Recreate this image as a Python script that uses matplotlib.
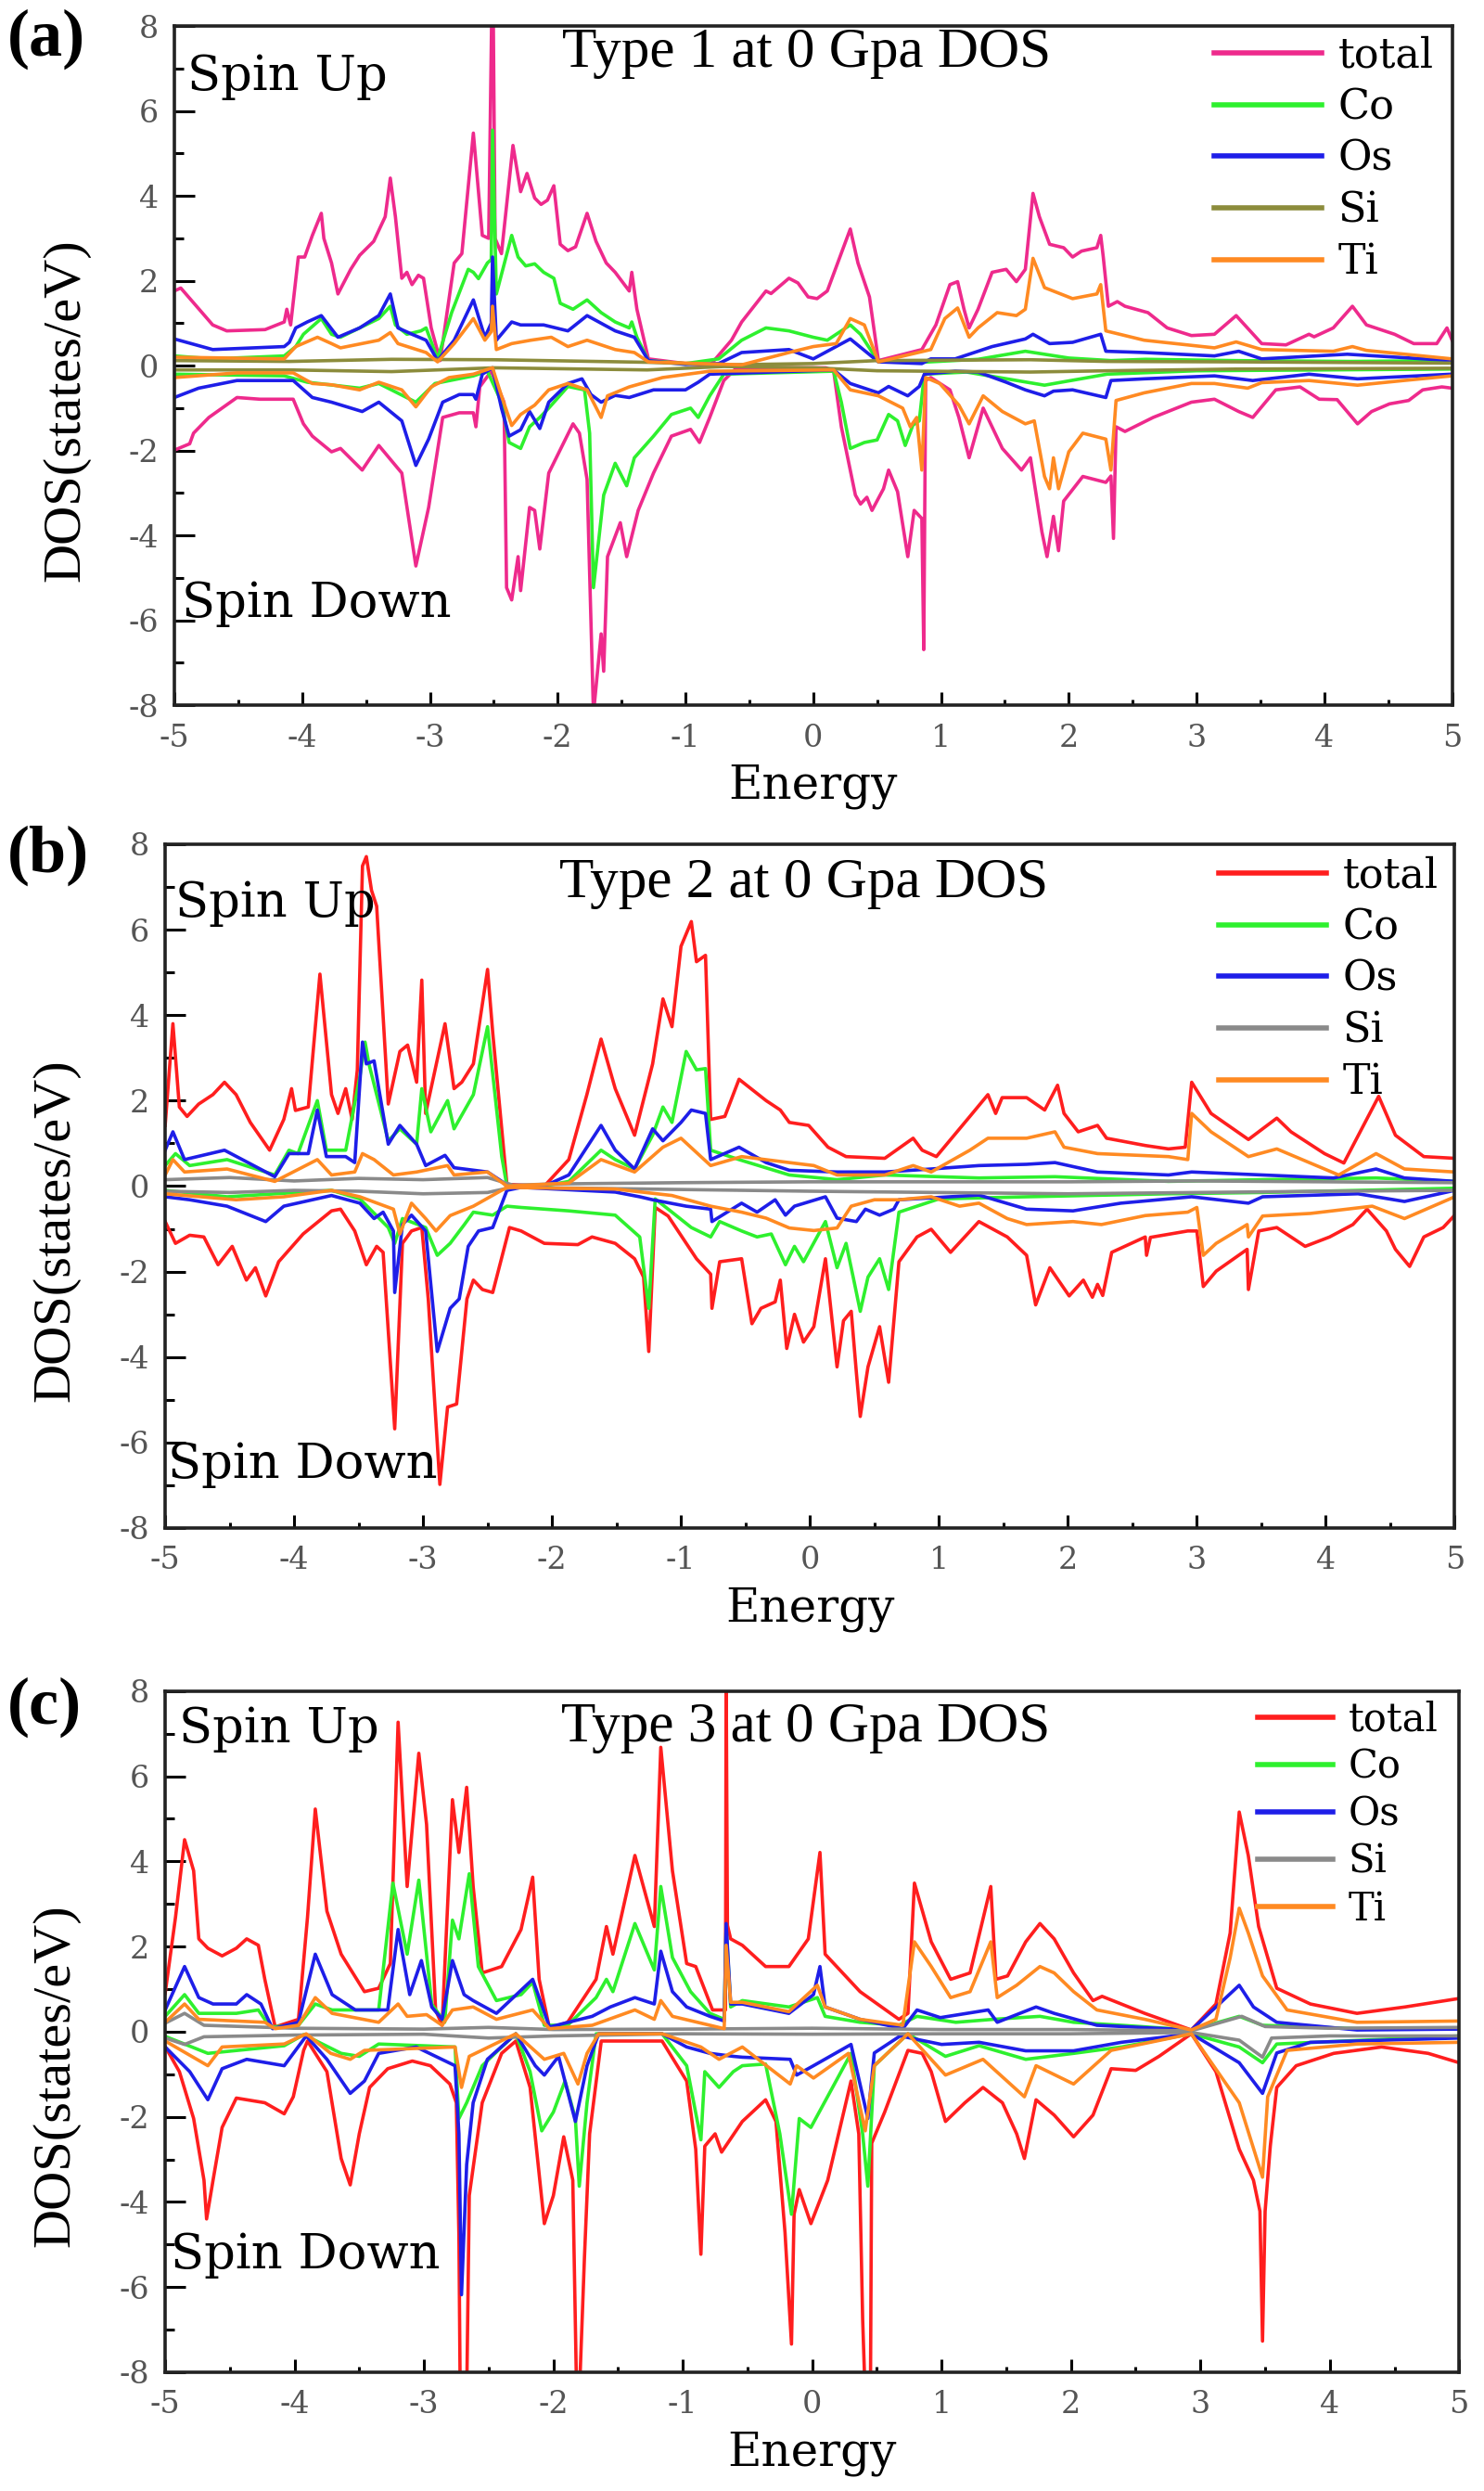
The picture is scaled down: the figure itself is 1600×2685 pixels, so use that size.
import matplotlib.pyplot as plt
from matplotlib.ticker import MultipleLocator

plt.rcParams['font.family'] = 'Liberation Serif'
plt.rcParams['axes.unicode_minus'] = False

# ---------------- panel (a) : Type 1 ----------------
a_total_up_e = [-5.00, -4.95, -4.70, -4.59, -4.29, -4.14, -4.12, -4.09, -4.03, -3.98, -3.92, -3.85, -3.83, -3.77, -3.72, -3.62, -3.55, -3.44, -3.35, -3.31, -3.27, -3.22, -3.18, -3.14, -3.09, -3.05, -2.99, -2.92, -2.81, -2.75, -2.66, -2.59, -2.54, -2.515, -2.505, -2.49, -2.44, -2.35, -2.29, -2.24, -2.18, -2.13, -2.08, -2.03, -1.98, -1.92, -1.86, -1.77, -1.70, -1.62, -1.55, -1.44, -1.42, -1.38, -1.29, -1.00, -0.81, -0.64, -0.56, -0.37, -0.33, -0.19, -0.12, -0.04, 0.03, 0.11, 0.29, 0.35, 0.44, 0.51, 0.85, 0.96, 1.07, 1.13, 1.18, 1.22, 1.29, 1.40, 1.51, 1.59, 1.66, 1.72, 1.77, 1.85, 1.96, 2.03, 2.10, 2.22, 2.25, 2.27, 2.31, 2.38, 2.44, 2.62, 2.77, 2.96, 3.14, 3.31, 3.51, 3.70, 3.88, 3.92, 4.07, 4.22, 4.33, 4.55, 4.70, 4.88, 4.96, 5.00]
a_total_up = [1.76, 1.83, 0.96, 0.82, 0.85, 1.03, 1.33, 0.96, 2.56, 2.56, 3.07, 3.59, 3.00, 2.42, 1.69, 2.27, 2.60, 2.93, 3.51, 4.42, 3.51, 2.06, 2.20, 1.91, 2.13, 2.06, 0.89, 0.12, 2.42, 2.64, 5.48, 3.07, 3.00, 8.60, 8.60, 3.00, 2.64, 5.19, 4.10, 4.53, 3.95, 3.80, 3.90, 4.24, 2.86, 2.71, 2.80, 3.59, 2.93, 2.42, 2.20, 1.76, 2.20, 1.33, 0.16, 0.05, 0.00, 0.60, 1.03, 1.76, 1.70, 2.06, 1.95, 1.62, 1.58, 1.76, 3.22, 2.42, 1.62, 0.12, 0.38, 0.96, 1.91, 1.98, 1.33, 0.89, 1.33, 2.20, 2.27, 1.98, 2.27, 4.06, 3.51, 2.86, 2.78, 2.56, 2.70, 2.78, 3.07, 2.56, 1.40, 1.51, 1.40, 1.25, 0.89, 0.71, 0.74, 1.18, 0.52, 0.49, 0.74, 0.68, 0.89, 1.40, 0.96, 0.74, 0.52, 0.52, 0.89, 0.60]
a_total_dn_e = [-5.00, -4.88, -4.85, -4.73, -4.51, -4.33, -4.07, -3.99, -3.92, -3.77, -3.70, -3.53, -3.40, -3.22, -3.11, -3.01, -2.90, -2.77, -2.66, -2.64, -2.61, -2.52, -2.42, -2.40, -2.36, -2.31, -2.29, -2.22, -2.18, -2.14, -2.07, -1.88, -1.83, -1.77, -1.72, -1.66, -1.64, -1.61, -1.51, -1.46, -1.37, -1.25, -1.11, -0.96, -0.89, -0.81, -0.70, -0.60, 0.10, 0.16, 0.22, 0.33, 0.37, 0.42, 0.46, 0.55, 0.59, 0.66, 0.74, 0.79, 0.85, 0.865, 0.88, 0.92, 1.07, 1.14, 1.22, 1.33, 1.48, 1.63, 1.70, 1.79, 1.83, 1.88, 1.92, 1.96, 2.11, 2.29, 2.33, 2.35, 2.37, 2.44, 2.66, 2.96, 3.14, 3.33, 3.44, 3.62, 3.81, 3.96, 4.10, 4.26, 4.37, 4.51, 4.66, 4.77, 4.92, 5.00]
a_total_dn = [-1.99, -1.84, -1.59, -1.22, -0.75, -0.79, -0.79, -1.37, -1.66, -2.03, -1.95, -2.46, -1.88, -2.53, -4.72, -3.34, -1.22, -1.11, -1.11, -1.44, -0.50, -0.13, -0.86, -5.23, -5.52, -4.50, -5.30, -3.34, -3.41, -4.32, -2.53, -1.37, -1.59, -2.68, -8.20, -6.32, -7.20, -4.50, -3.70, -4.50, -3.41, -2.53, -1.66, -1.50, -1.81, -1.22, -0.35, -0.05, -0.05, -0.13, -1.44, -3.05, -3.26, -3.10, -3.41, -2.90, -2.46, -2.97, -4.50, -3.41, -3.60, -6.69, -0.35, -0.28, -0.57, -1.22, -2.17, -1.00, -1.95, -2.46, -2.17, -3.92, -4.50, -3.55, -4.36, -3.19, -2.61, -2.75, -2.60, -4.07, -1.44, -1.55, -1.22, -0.86, -0.79, -1.08, -1.22, -0.57, -0.50, -0.79, -0.80, -1.37, -1.08, -0.90, -0.82, -0.57, -0.50, -0.53]

a_co_up_e = [-5.00, -4.70, -4.14, -4.05, -3.99, -3.85, -3.77, -3.70, -3.40, -3.31, -3.27, -3.18, -3.07, -3.03, -2.94, -2.83, -2.70, -2.66, -2.62, -2.55, -2.52, -2.51, -2.48, -2.36, -2.31, -2.25, -2.18, -2.11, -2.03, -1.98, -1.88, -1.77, -1.66, -1.55, -1.44, -1.42, -1.38, -1.29, -1.00, -0.74, -0.56, -0.37, -0.19, 0.00, 0.11, 0.29, 0.37, 0.51, 0.85, 1.29, 1.66, 2.00, 2.33, 2.60, 3.30, 4.20, 5.00]
a_co_up = [0.23, 0.16, 0.23, 0.45, 0.74, 1.11, 0.74, 0.67, 1.11, 1.40, 0.96, 0.74, 0.82, 0.89, 0.16, 1.25, 2.27, 2.20, 2.05, 2.42, 2.50, 5.55, 1.69, 3.07, 2.56, 2.35, 2.40, 2.20, 2.06, 1.47, 1.33, 1.55, 1.25, 1.03, 0.89, 1.03, 0.67, 0.12, 0.05, 0.16, 0.60, 0.89, 0.82, 0.67, 0.60, 0.96, 0.74, 0.09, 0.08, 0.15, 0.34, 0.18, 0.12, 0.15, 0.12, 0.10, 0.12]
a_co_dn_e = [-5.00, -4.14, -3.96, -3.55, -3.40, -3.11, -2.96, -2.66, -2.55, -2.44, -2.38, -2.29, -2.22, -2.14, -2.07, -1.92, -1.79, -1.75, -1.72, -1.64, -1.55, -1.46, -1.40, -1.25, -1.11, -0.96, -0.90, -0.81, -0.70, 0.16, 0.22, 0.29, 0.40, 0.50, 0.59, 0.66, 0.72, 0.78, 0.83, 0.87, 1.20, 1.81, 2.30, 3.00, 4.00, 5.00]
a_co_dn = [-0.20, -0.24, -0.39, -0.53, -0.42, -0.86, -0.42, -0.24, -0.13, -0.86, -1.81, -1.95, -1.44, -1.22, -1.00, -0.49, -0.57, -1.59, -5.23, -3.05, -2.30, -2.83, -2.17, -1.66, -1.15, -1.00, -1.22, -0.71, -0.20, -0.13, -0.86, -1.95, -1.81, -1.75, -1.15, -1.30, -1.88, -1.40, -1.30, -0.20, -0.15, -0.46, -0.20, -0.12, -0.10, -0.08]

a_os_up_e = [-5.00, -4.70, -4.14, -4.10, -4.05, -3.96, -3.85, -3.72, -3.55, -3.40, -3.31, -3.25, -3.14, -3.03, -2.94, -2.81, -2.66, -2.57, -2.52, -2.51, -2.48, -2.36, -2.29, -2.11, -1.92, -1.77, -1.55, -1.40, -1.29, -1.00, -0.74, -0.56, -0.19, 0.00, 0.29, 0.51, 0.85, 0.92, 1.11, 1.40, 1.66, 1.72, 1.85, 2.03, 2.25, 2.29, 2.59, 3.14, 3.33, 3.51, 4.18, 5.00]
a_os_up = [0.63, 0.38, 0.45, 0.55, 0.89, 1.03, 1.18, 0.67, 0.89, 1.18, 1.69, 0.89, 0.74, 0.60, 0.12, 0.60, 1.55, 0.67, 1.00, 2.56, 0.60, 1.03, 0.96, 0.96, 0.82, 1.18, 0.82, 0.67, 0.12, 0.03, 0.05, 0.31, 0.38, 0.16, 0.63, 0.09, 0.05, 0.16, 0.16, 0.45, 0.63, 0.74, 0.52, 0.55, 0.74, 0.34, 0.31, 0.23, 0.34, 0.16, 0.27, 0.12]
a_os_dn_e = [-5.00, -4.81, -4.51, -4.07, -3.92, -3.77, -3.53, -3.40, -3.22, -3.11, -3.01, -2.90, -2.77, -2.66, -2.64, -2.59, -2.51, -2.44, -2.38, -2.29, -2.22, -2.14, -2.07, -1.92, -1.81, -1.74, -1.66, -1.55, -1.44, -1.25, -1.00, -0.90, -0.81, 0.16, 0.29, 0.51, 0.59, 0.74, 0.83, 0.87, 1.11, 1.29, 1.51, 1.66, 1.81, 1.88, 2.03, 2.29, 2.33, 2.59, 3.14, 3.44, 3.88, 4.26, 5.00]
a_os_dn = [-0.75, -0.53, -0.35, -0.35, -0.75, -0.86, -1.08, -0.86, -1.30, -2.35, -1.73, -0.86, -0.68, -0.68, -0.79, -0.20, -0.05, -1.00, -1.66, -1.51, -1.08, -1.48, -0.86, -0.42, -0.31, -0.68, -0.86, -0.70, -0.75, -0.57, -0.57, -0.39, -0.20, -0.10, -0.42, -0.64, -0.49, -0.71, -0.49, -0.20, -0.13, -0.15, -0.39, -0.57, -0.71, -0.60, -0.57, -0.75, -0.35, -0.31, -0.24, -0.35, -0.20, -0.31, -0.20]

a_si_up_e = [-5.00, -4.10, -3.30, -2.50, -1.30, -0.70, 0.00, 0.50, 1.70, 2.30, 3.30, 5.00]
a_si_up = [0.12, 0.10, 0.15, 0.14, 0.08, 0.02, 0.05, 0.12, 0.14, 0.10, 0.09, 0.06]
a_si_dn_e = [-5.00, -4.10, -3.30, -2.50, -1.30, -0.70, 0.00, 0.50, 1.70, 2.30, 3.30, 5.00]
a_si_dn = [-0.10, -0.10, -0.14, -0.05, -0.10, -0.02, -0.05, -0.12, -0.15, -0.12, -0.08, -0.06]

a_ti_up_e = [-5.00, -4.14, -4.05, -3.88, -3.77, -3.70, -3.40, -3.31, -3.25, -3.03, -2.94, -2.81, -2.66, -2.57, -2.52, -2.51, -2.48, -2.36, -2.21, -2.05, -1.92, -1.77, -1.55, -1.40, -1.29, -0.56, -0.19, 0.00, 0.18, 0.29, 0.40, 0.51, 0.92, 1.03, 1.13, 1.22, 1.29, 1.44, 1.59, 1.66, 1.72, 1.81, 2.03, 2.22, 2.25, 2.29, 2.59, 3.14, 3.31, 3.51, 4.07, 4.22, 4.33, 5.00]
a_ti_up = [0.20, 0.16, 0.45, 0.67, 0.52, 0.42, 0.60, 0.78, 0.52, 0.31, 0.09, 0.52, 1.11, 0.60, 0.80, 1.40, 0.38, 0.52, 0.60, 0.67, 0.45, 0.60, 0.38, 0.31, 0.09, 0.02, 0.31, 0.45, 0.52, 1.11, 0.96, 0.09, 0.38, 1.11, 1.36, 0.67, 0.89, 1.25, 1.18, 1.33, 2.53, 1.84, 1.58, 1.69, 1.91, 0.82, 0.60, 0.42, 0.56, 0.38, 0.34, 0.45, 0.36, 0.16]
a_ti_dn_e = [-5.00, -4.51, -4.07, -3.92, -3.77, -3.55, -3.40, -3.22, -3.11, -2.99, -2.85, -2.66, -2.51, -2.44, -2.36, -2.29, -2.18, -2.07, -1.92, -1.77, -1.66, -1.61, -1.44, -1.18, -0.81, 0.16, 0.29, 0.51, 0.70, 0.76, 0.81, 0.85, 0.88, 0.99, 1.14, 1.22, 1.33, 1.48, 1.66, 1.73, 1.81, 1.85, 1.88, 1.92, 2.00, 2.11, 2.29, 2.33, 2.37, 2.59, 2.96, 3.14, 3.40, 3.51, 3.88, 4.26, 4.62, 5.00]
a_ti_dn = [-0.28, -0.17, -0.17, -0.42, -0.45, -0.57, -0.39, -0.57, -0.97, -0.50, -0.28, -0.20, -0.05, -0.71, -1.41, -1.15, -0.93, -0.57, -0.42, -0.57, -1.22, -0.71, -0.50, -0.28, -0.13, -0.10, -0.57, -0.71, -1.00, -1.44, -1.22, -2.46, -0.28, -0.42, -0.93, -1.37, -0.71, -1.08, -1.37, -1.30, -2.61, -2.90, -2.17, -2.90, -2.03, -1.59, -1.73, -2.46, -0.82, -0.64, -0.42, -0.42, -0.53, -0.40, -0.35, -0.46, -0.35, -0.24]

# ---------------- panel (b) : Type 2 ----------------
b_total_up_e = [-5.00, -4.94, -4.89, -4.83, -4.74, -4.63, -4.54, -4.45, -4.34, -4.19, -4.08, -4.02, -3.99, -3.89, -3.80, -3.71, -3.66, -3.60, -3.55, -3.51, -3.47, -3.44, -3.40, -3.36, -3.27, -3.18, -3.12, -3.05, -3.01, -2.98, -2.83, -2.76, -2.70, -2.61, -2.50, -2.46, -2.35, -2.06, -1.87, -1.73, -1.62, -1.51, -1.36, -1.22, -1.14, -1.07, -1.00, -0.92, -0.88, -0.81, -0.77, -0.66, -0.55, -0.34, -0.23, -0.16, -0.01, 0.14, 0.28, 0.58, 0.80, 0.87, 0.98, 1.24, 1.38, 1.44, 1.49, 1.68, 1.82, 1.92, 1.97, 2.08, 2.23, 2.30, 2.60, 2.78, 2.91, 2.96, 3.11, 3.40, 3.62, 3.73, 3.99, 4.14, 4.41, 4.54, 4.76, 5.00]
b_total_up = [1.42, 3.80, 1.85, 1.63, 1.92, 2.14, 2.43, 2.14, 1.49, 0.84, 1.56, 2.28, 1.77, 1.85, 4.96, 2.14, 1.70, 2.28, 1.56, 2.72, 7.49, 7.71, 6.92, 6.55, 1.92, 3.15, 3.30, 2.43, 4.82, 1.70, 3.80, 2.28, 2.43, 2.86, 5.07, 3.59, 0.04, 0.00, 0.62, 2.14, 3.44, 2.28, 1.19, 2.86, 4.38, 3.73, 5.61, 6.19, 5.25, 5.40, 1.56, 1.63, 2.50, 2.00, 1.78, 1.49, 1.42, 0.91, 0.69, 0.65, 1.12, 0.84, 0.69, 1.63, 2.14, 1.70, 2.07, 2.07, 1.78, 2.36, 1.70, 1.27, 1.42, 1.12, 0.95, 0.87, 0.91, 2.43, 1.70, 1.09, 1.59, 1.27, 0.76, 0.54, 2.10, 1.19, 0.69, 0.65]
b_total_dn_e = [-5.00, -4.92, -4.81, -4.70, -4.59, -4.48, -4.37, -4.30, -4.22, -4.12, -3.93, -3.71, -3.64, -3.53, -3.44, -3.36, -3.31, -3.22, -3.16, -3.09, -3.01, -2.96, -2.87, -2.81, -2.74, -2.66, -2.61, -2.54, -2.46, -2.33, -2.24, -2.06, -1.80, -1.69, -1.51, -1.36, -1.29, -1.25, -1.20, -1.10, -0.88, -0.77, -0.76, -0.70, -0.53, -0.45, -0.38, -0.27, -0.23, -0.18, -0.12, -0.05, 0.03, 0.12, 0.21, 0.26, 0.32, 0.36, 0.39, 0.45, 0.54, 0.61, 0.69, 0.83, 0.94, 1.09, 1.31, 1.53, 1.68, 1.75, 1.86, 2.01, 2.12, 2.19, 2.23, 2.27, 2.34, 2.60, 2.61, 2.64, 2.93, 3.00, 3.05, 3.15, 3.39, 3.40, 3.48, 3.62, 3.84, 4.03, 4.21, 4.32, 4.47, 4.54, 4.65, 4.76, 4.91, 5.00]
b_total_dn = [-0.83, -1.34, -1.15, -1.19, -1.84, -1.41, -2.20, -1.91, -2.57, -1.77, -1.12, -0.58, -0.54, -1.05, -1.84, -1.41, -1.55, -5.68, -1.34, -1.05, -0.97, -2.64, -6.98, -5.17, -5.10, -2.64, -2.20, -2.42, -2.49, -0.97, -1.05, -1.34, -1.37, -1.19, -1.34, -1.70, -2.13, -3.87, -0.50, -0.70, -1.70, -2.06, -2.86, -1.77, -1.70, -3.22, -2.86, -2.71, -2.20, -3.80, -3.00, -3.65, -3.29, -1.70, -4.23, -3.15, -2.93, -4.37, -5.39, -4.23, -3.29, -4.59, -1.77, -1.19, -1.01, -1.55, -0.83, -1.19, -1.62, -2.78, -1.91, -2.57, -2.20, -2.60, -2.30, -2.56, -1.55, -1.19, -1.62, -1.20, -1.05, -1.05, -2.35, -1.99, -1.48, -2.42, -1.05, -0.97, -1.41, -1.19, -0.90, -0.54, -1.05, -1.48, -1.88, -1.19, -0.97, -0.68]

b_co_up_e = [-5.00, -4.92, -4.81, -4.52, -4.15, -4.04, -3.97, -3.82, -3.75, -3.60, -3.49, -3.45, -3.42, -3.27, -3.18, -3.05, -3.01, -2.94, -2.81, -2.76, -2.61, -2.50, -2.39, -2.35, -2.06, -1.87, -1.62, -1.51, -1.36, -1.22, -1.14, -1.07, -0.96, -0.88, -0.81, -0.77, -0.55, -0.16, 0.21, 0.58, 1.31, 1.90, 2.78, 3.51, 4.39, 5.00]
b_co_up = [0.48, 0.76, 0.48, 0.62, 0.26, 0.84, 0.76, 2.00, 0.84, 0.84, 2.57, 3.37, 2.86, 1.06, 1.34, 0.98, 2.28, 1.27, 2.00, 1.34, 2.14, 3.73, 0.69, 0.00, 0.00, 0.11, 0.84, 0.62, 0.40, 1.19, 1.85, 1.49, 3.15, 2.72, 2.75, 0.84, 0.62, 0.26, 0.15, 0.26, 0.19, 0.22, 0.11, 0.15, 0.19, 0.11]
b_co_dn_e = [-5.00, -4.52, -3.71, -3.49, -3.27, -3.22, -3.16, -2.98, -2.89, -2.79, -2.68, -2.61, -2.46, -2.35, -2.24, -1.87, -1.51, -1.32, -1.25, -1.20, -1.07, -0.92, -0.77, -0.70, -0.53, -0.41, -0.30, -0.19, -0.12, -0.05, 0.12, 0.21, 0.28, 0.34, 0.39, 0.45, 0.54, 0.61, 0.69, 1.00, 1.68, 2.78, 3.51, 5.00]
b_co_dn = [-0.10, -0.25, -0.10, -0.30, -0.97, -1.34, -0.76, -0.97, -1.62, -1.34, -0.90, -0.61, -0.68, -0.47, -0.50, -0.58, -0.68, -1.19, -2.86, -0.30, -0.61, -0.97, -1.19, -0.83, -1.05, -1.19, -1.12, -1.84, -1.41, -1.77, -0.83, -1.91, -1.34, -2.20, -2.93, -2.13, -1.70, -2.42, -0.61, -0.30, -0.25, -0.18, -0.15, -0.05]

b_os_up_e = [-5.00, -4.94, -4.85, -4.54, -4.15, -4.04, -3.89, -3.82, -3.75, -3.60, -3.53, -3.47, -3.44, -3.38, -3.27, -3.18, -3.05, -2.98, -2.83, -2.76, -2.50, -2.39, -2.35, -2.06, -1.87, -1.62, -1.51, -1.36, -1.22, -1.14, -1.00, -0.92, -0.81, -0.77, -0.55, -0.34, -0.16, 0.21, 0.58, 0.94, 1.31, 1.68, 1.90, 2.23, 2.78, 2.96, 3.51, 4.06, 4.39, 4.61, 5.00]
b_os_up = [0.84, 1.27, 0.62, 0.84, 0.22, 0.76, 0.76, 1.78, 0.69, 0.69, 0.55, 3.37, 2.86, 2.93, 0.98, 1.42, 0.98, 0.48, 0.72, 0.43, 0.33, 0.11, 0.00, 0.00, 0.26, 1.42, 0.84, 0.40, 1.34, 1.06, 1.49, 1.78, 1.70, 0.62, 0.91, 0.55, 0.37, 0.33, 0.33, 0.40, 0.48, 0.51, 0.55, 0.33, 0.26, 0.33, 0.26, 0.19, 0.40, 0.19, 0.11]
b_os_dn_e = [-5.00, -4.81, -4.52, -4.37, -4.22, -4.08, -3.71, -3.49, -3.38, -3.31, -3.23, -3.22, -3.16, -3.09, -2.98, -2.89, -2.79, -2.72, -2.65, -2.57, -2.46, -2.35, -2.24, -1.51, -1.32, -1.22, -0.96, -0.77, -0.76, -0.53, -0.41, -0.27, -0.19, -0.12, 0.12, 0.21, 0.36, 0.43, 0.54, 0.65, 0.69, 1.31, 1.68, 2.04, 2.41, 2.96, 3.40, 3.51, 4.25, 4.61, 5.00]
b_os_dn = [-0.25, -0.32, -0.47, -0.65, -0.83, -0.47, -0.22, -0.40, -0.76, -0.61, -1.05, -2.49, -0.90, -0.68, -1.05, -3.87, -2.86, -2.64, -1.41, -1.05, -0.97, -0.10, -0.03, -0.14, -0.25, -0.32, -0.47, -0.54, -0.83, -0.40, -0.61, -0.32, -0.68, -0.47, -0.25, -0.75, -0.83, -0.54, -0.68, -0.54, -0.32, -0.21, -0.54, -0.58, -0.40, -0.25, -0.40, -0.25, -0.18, -0.36, -0.10]

b_si_up_e = [-5.00, -4.50, -4.00, -3.50, -3.00, -2.50, -2.30, -2.00, -1.00, 0.00, 1.00, 2.00, 3.00, 4.00, 5.00]
b_si_up = [0.15, 0.20, 0.12, 0.18, 0.15, 0.20, 0.02, 0.05, 0.08, 0.10, 0.10, 0.10, 0.12, 0.10, 0.08]
b_si_dn_e = [-5.00, -4.50, -4.00, -3.50, -3.00, -2.50, -2.30, -2.00, -1.00, 0.00, 1.00, 2.00, 3.00, 4.00, 5.00]
b_si_dn = [-0.12, -0.15, -0.10, -0.12, -0.18, -0.15, -0.02, -0.04, -0.08, -0.12, -0.15, -0.18, -0.15, -0.12, -0.10]

b_ti_up_e = [-5.00, -4.94, -4.85, -4.52, -4.15, -3.82, -3.71, -3.53, -3.47, -3.38, -3.23, -3.05, -2.81, -2.76, -2.50, -2.35, -1.87, -1.62, -1.36, -1.14, -1.00, -0.77, -0.53, -0.16, 0.03, 0.21, 0.58, 0.80, 0.94, 1.24, 1.38, 1.68, 1.90, 1.97, 2.23, 2.78, 2.93, 2.96, 3.11, 3.40, 3.62, 4.10, 4.39, 4.61, 5.00]
b_ti_up = [0.26, 0.62, 0.33, 0.40, 0.11, 0.62, 0.26, 0.33, 0.76, 0.62, 0.26, 0.33, 0.48, 0.26, 0.33, 0.00, 0.07, 0.62, 0.33, 0.91, 1.12, 0.48, 0.69, 0.55, 0.48, 0.26, 0.26, 0.48, 0.33, 0.84, 1.12, 1.12, 1.27, 0.91, 0.76, 0.69, 0.62, 1.70, 1.27, 0.69, 0.87, 0.26, 0.76, 0.40, 0.33]
b_ti_dn_e = [-5.00, -4.45, -4.08, -3.71, -3.49, -3.23, -3.18, -3.09, -2.98, -2.90, -2.79, -2.61, -2.35, -1.51, -1.07, -0.77, -0.53, -0.34, -0.16, 0.03, 0.21, 0.32, 0.50, 0.69, 0.94, 1.16, 1.31, 1.53, 1.68, 2.04, 2.26, 2.60, 2.93, 3.00, 3.05, 3.15, 3.39, 3.40, 3.51, 3.88, 4.36, 4.61, 5.00]
b_ti_dn = [-0.18, -0.32, -0.25, -0.10, -0.25, -0.54, -1.12, -0.40, -0.76, -1.05, -0.69, -0.47, -0.03, -0.07, -0.22, -0.47, -0.61, -0.75, -0.98, -1.04, -0.98, -0.47, -0.32, -0.32, -0.25, -0.47, -0.40, -0.76, -0.90, -0.83, -0.90, -0.69, -0.61, -0.50, -1.62, -1.34, -0.90, -1.19, -0.70, -0.64, -0.47, -0.76, -0.25]

# ---------------- panel (c) : Type 3 ----------------
c_total_up_e = [-5.00, -4.92, -4.85, -4.78, -4.74, -4.67, -4.56, -4.45, -4.37, -4.28, -4.23, -4.15, -3.97, -3.90, -3.84, -3.75, -3.64, -3.46, -3.35, -3.26, -3.20, -3.13, -3.04, -2.98, -2.91, -2.86, -2.78, -2.73, -2.67, -2.62, -2.55, -2.40, -2.25, -2.16, -2.11, -2.03, -1.89, -1.67, -1.59, -1.54, -1.37, -1.22, -1.17, -1.08, -0.97, -0.90, -0.77, -0.67, -0.665, -0.655, -0.63, -0.54, -0.36, -0.18, -0.03, 0.06, 0.10, 0.37, 0.67, 0.74, 0.79, 0.92, 1.07, 1.22, 1.38, 1.42, 1.51, 1.65, 1.76, 1.87, 2.02, 2.17, 2.24, 2.57, 2.93, 3.12, 3.23, 3.30, 3.37, 3.45, 3.59, 3.85, 4.21, 4.58, 5.00]
c_total_up = [0.90, 2.69, 4.51, 3.78, 2.18, 1.96, 1.78, 1.96, 2.18, 2.03, 1.23, 0.11, 0.29, 2.69, 5.23, 2.83, 1.82, 0.94, 1.02, 1.60, 7.27, 3.41, 6.54, 4.87, 0.51, 0.15, 5.45, 4.21, 5.74, 3.41, 1.38, 1.53, 2.40, 3.63, 1.23, 0.07, 0.22, 1.23, 2.47, 1.82, 4.14, 2.47, 6.68, 3.78, 1.60, 1.53, 0.51, 0.51, 8.60, 2.50, 2.18, 2.03, 1.53, 1.53, 2.18, 4.21, 1.82, 0.94, 0.29, 0.43, 3.49, 2.11, 1.23, 1.38, 3.41, 1.23, 1.31, 2.11, 2.54, 2.18, 1.38, 0.73, 0.83, 0.43, 0.04, 0.65, 2.32, 5.16, 4.14, 2.47, 1.02, 0.65, 0.43, 0.58, 0.78]
c_total_dn_e = [-5.00, -4.89, -4.78, -4.70, -4.68, -4.63, -4.56, -4.45, -4.23, -4.08, -4.01, -3.93, -3.90, -3.75, -3.64, -3.57, -3.50, -3.42, -3.28, -3.09, -2.95, -2.80, -2.75, -2.73, -2.72, -2.67, -2.65, -2.55, -2.40, -2.29, -2.18, -2.07, -2.00, -1.92, -1.85, -1.82, -1.80, -1.76, -1.72, -1.63, -1.16, -0.97, -0.90, -0.86, -0.83, -0.75, -0.70, -0.54, -0.36, -0.28, -0.21, -0.16, -0.14, -0.10, -0.01, 0.12, 0.30, 0.36, 0.39, 0.41, 0.45, 0.46, 0.56, 0.74, 0.85, 0.92, 1.03, 1.18, 1.32, 1.47, 1.58, 1.64, 1.73, 1.87, 2.02, 2.17, 2.31, 2.50, 2.68, 2.93, 3.12, 3.30, 3.41, 3.46, 3.48, 3.50, 3.54, 3.59, 3.74, 4.03, 4.40, 4.76, 5.00]
c_total_dn = [-0.35, -0.94, -2.04, -3.49, -4.40, -3.49, -2.25, -1.56, -1.67, -1.93, -1.53, -0.44, -0.22, -0.94, -2.98, -3.60, -2.40, -1.31, -0.87, -0.69, -0.80, -1.23, -1.67, -4.80, -8.60, -8.60, -3.85, -1.67, -0.51, -0.22, -1.31, -4.51, -3.85, -2.47, -3.49, -8.60, -8.60, -5.31, -2.40, -0.22, -0.22, -1.16, -2.76, -5.23, -2.69, -2.40, -2.83, -2.11, -1.60, -2.11, -4.72, -7.34, -4.29, -3.71, -4.51, -3.49, -1.16, -2.40, -6.76, -8.60, -8.60, -2.62, -1.89, -0.44, -0.51, -0.94, -2.11, -1.67, -1.31, -1.67, -2.40, -2.98, -1.60, -1.96, -2.47, -1.96, -0.87, -0.91, -0.58, -0.05, -0.94, -2.76, -3.49, -4.22, -7.27, -4.22, -2.69, -1.31, -0.80, -0.51, -0.36, -0.51, -0.73]

c_co_up_e = [-5.00, -4.85, -4.74, -4.45, -4.28, -4.19, -3.97, -3.84, -3.71, -3.35, -3.24, -3.13, -3.04, -2.94, -2.84, -2.78, -2.73, -2.65, -2.58, -2.44, -2.25, -2.16, -2.07, -1.89, -1.67, -1.59, -1.54, -1.37, -1.22, -1.17, -1.08, -0.94, -0.79, -0.68, -0.665, -0.63, -0.54, -0.18, 0.04, 0.10, 0.37, 0.67, 0.81, 1.11, 1.40, 1.76, 2.02, 2.39, 2.93, 3.30, 3.48, 4.21, 5.00]
c_co_up = [0.36, 0.87, 0.43, 0.43, 0.51, 0.11, 0.15, 0.65, 0.51, 0.51, 3.49, 1.82, 3.56, 0.65, 0.22, 2.62, 2.18, 3.71, 1.53, 0.73, 0.87, 1.16, 0.15, 0.15, 0.80, 1.23, 0.94, 2.54, 1.45, 3.41, 1.74, 0.94, 0.43, 0.29, 2.47, 0.58, 0.73, 0.58, 0.80, 0.36, 0.22, 0.15, 0.36, 0.22, 0.29, 0.36, 0.22, 0.15, 0.04, 0.36, 0.15, 0.07, 0.07]
c_co_dn_e = [-5.00, -4.67, -4.08, -3.93, -3.64, -3.50, -3.35, -2.76, -2.73, -2.67, -2.55, -2.40, -2.29, -2.18, -2.09, -2.00, -1.91, -1.83, -1.80, -1.74, -1.67, -1.16, -0.97, -0.86, -0.83, -0.72, -0.61, -0.54, -0.36, -0.25, -0.16, -0.10, -0.01, 0.30, 0.39, 0.43, 0.48, 0.74, 1.03, 1.29, 1.65, 2.02, 2.39, 2.93, 3.30, 3.48, 3.59, 5.00]
c_co_dn = [-0.11, -0.51, -0.33, -0.07, -0.51, -0.58, -0.29, -0.36, -2.04, -1.67, -0.80, -0.36, -0.05, -0.94, -2.33, -1.89, -1.16, -2.04, -3.63, -1.67, -0.05, -0.05, -0.80, -2.54, -0.94, -1.31, -0.94, -0.80, -0.76, -2.40, -4.29, -2.04, -2.25, -0.51, -2.40, -3.63, -0.80, -0.05, -0.58, -0.33, -0.65, -0.51, -0.36, -0.05, -0.36, -0.73, -0.29, -0.10]

c_os_up_e = [-5.00, -4.85, -4.74, -4.63, -4.45, -4.37, -4.26, -4.17, -3.97, -3.84, -3.71, -3.53, -3.28, -3.20, -3.11, -3.02, -2.94, -2.86, -2.78, -2.69, -2.62, -2.44, -2.16, -2.03, -1.70, -1.56, -1.37, -1.22, -1.17, -1.08, -0.97, -0.79, -0.68, -0.665, -0.63, -0.54, -0.18, 0.01, 0.06, 0.10, 0.37, 0.70, 0.81, 0.99, 1.36, 1.43, 1.73, 1.87, 2.20, 2.93, 3.30, 3.41, 3.59, 4.21, 5.00]
c_os_up = [0.51, 1.53, 0.80, 0.65, 0.65, 0.87, 0.65, 0.07, 0.22, 1.82, 0.87, 0.51, 0.51, 2.40, 0.87, 1.67, 0.58, 0.29, 1.67, 0.87, 0.73, 0.43, 1.23, 0.11, 0.36, 0.58, 0.80, 0.65, 1.89, 0.94, 0.58, 0.36, 0.25, 2.54, 0.65, 0.65, 0.43, 0.87, 1.53, 0.58, 0.29, 0.07, 0.51, 0.33, 0.51, 0.22, 0.58, 0.43, 0.15, 0.04, 1.09, 0.58, 0.22, 0.04, 0.06]
c_os_dn_e = [-5.00, -4.81, -4.67, -4.56, -4.37, -4.08, -3.91, -3.75, -3.57, -3.46, -3.35, -3.06, -2.76, -2.73, -2.71, -2.67, -2.62, -2.51, -2.29, -2.14, -2.07, -1.96, -1.83, -1.74, -1.65, -1.16, -0.97, -0.79, -0.61, -0.54, -0.17, -0.12, 0.01, 0.30, 0.43, 0.48, 0.68, 1.00, 1.29, 1.65, 2.02, 2.39, 2.93, 3.30, 3.48, 3.59, 3.85, 5.00]
c_os_dn = [-0.36, -0.94, -1.60, -0.87, -0.65, -0.80, -0.10, -0.65, -1.45, -1.16, -0.51, -0.36, -0.80, -2.40, -6.18, -3.12, -1.67, -0.65, -0.05, -0.80, -1.02, -0.58, -2.11, -0.80, -0.05, -0.05, -0.36, -0.51, -0.58, -0.60, -0.65, -1.02, -0.80, -0.30, -2.04, -0.50, -0.10, -0.30, -0.25, -0.45, -0.45, -0.25, -0.05, -0.73, -1.45, -0.50, -0.25, -0.15]

c_si_up_e = [-5.00, -4.85, -4.70, -4.00, -3.00, -2.50, -2.00, -1.00, 0.00, 1.00, 2.00, 2.93, 3.32, 3.50, 4.00, 5.00]
c_si_up = [0.20, 0.43, 0.15, 0.08, 0.06, 0.10, 0.05, 0.06, 0.08, 0.05, 0.05, 0.02, 0.36, 0.12, 0.08, 0.10]
c_si_dn_e = [-5.00, -4.85, -4.70, -4.00, -3.00, -2.50, -2.00, -1.00, 0.00, 1.00, 2.00, 2.93, 3.30, 3.48, 3.55, 4.00, 5.00]
c_si_dn = [-0.15, -0.30, -0.12, -0.08, -0.06, -0.15, -0.10, -0.05, -0.06, -0.05, -0.05, -0.02, -0.20, -0.60, -0.15, -0.10, -0.10]

c_ti_up_e = [-5.00, -4.85, -4.74, -4.23, -4.15, -3.97, -3.84, -3.71, -3.35, -3.20, -3.13, -2.98, -2.86, -2.78, -2.62, -2.44, -2.16, -2.03, -1.70, -1.37, -1.22, -1.17, -1.08, -0.68, -0.665, -0.63, -0.54, -0.18, 0.04, 0.10, 0.37, 0.70, 0.79, 0.92, 1.07, 1.22, 1.38, 1.43, 1.58, 1.76, 1.87, 2.02, 2.20, 2.57, 2.93, 3.12, 3.23, 3.30, 3.37, 3.48, 3.67, 4.21, 5.00]
c_ti_up = [0.22, 0.65, 0.29, 0.22, 0.07, 0.15, 0.80, 0.43, 0.22, 0.65, 0.36, 0.40, 0.15, 0.51, 0.58, 0.29, 0.51, 0.07, 0.15, 0.51, 0.29, 0.73, 0.36, 0.07, 2.03, 0.69, 0.69, 0.47, 1.09, 0.58, 0.29, 0.15, 2.11, 1.53, 0.80, 0.94, 2.11, 0.80, 1.09, 1.53, 1.38, 0.94, 0.51, 0.29, 0.04, 0.29, 1.74, 2.90, 2.32, 1.31, 0.51, 0.22, 0.25]
c_ti_dn_e = [-5.00, -4.67, -4.56, -4.08, -3.91, -3.72, -3.57, -3.46, -2.76, -2.71, -2.65, -2.29, -2.07, -1.92, -1.81, -1.74, -1.65, -1.16, -0.86, -0.72, -0.54, -0.17, -0.12, 0.01, 0.28, 0.41, 0.48, 0.74, 1.03, 1.32, 1.64, 1.73, 2.02, 2.31, 2.93, 3.30, 3.48, 3.52, 3.67, 4.21, 5.00]
c_ti_dn = [-0.22, -0.80, -0.36, -0.29, -0.05, -0.51, -0.65, -0.44, -0.36, -1.31, -0.58, -0.05, -0.65, -0.51, -1.23, -0.51, -0.05, -0.05, -0.36, -0.65, -0.36, -1.23, -0.80, -1.09, -0.51, -2.33, -0.80, -0.05, -1.02, -0.65, -1.53, -0.80, -1.23, -0.44, -0.05, -1.67, -3.42, -1.53, -0.44, -0.29, -0.25]

labels = ['total', 'Co', 'Os', 'Si', 'Ti']
titles = ['Type 1 at 0 Gpa DOS', 'Type 2 at 0 Gpa DOS', 'Type 3 at 0 Gpa DOS']
panel_tags = ['(a)', '(b)', '(c)']

colors_a = ['#ee2a8c', '#2ef02e', '#1e1ee8', '#8c8c3c', '#ff8a22']
colors_bc = ['#ff1e1e', '#2ef02e', '#1e1ee8', '#8a8a8a', '#ff8a22']

panels = [
    [(a_total_up_e, a_total_up, a_total_dn_e, a_total_dn), (a_co_up_e, a_co_up, a_co_dn_e, a_co_dn),
     (a_os_up_e, a_os_up, a_os_dn_e, a_os_dn), (a_si_up_e, a_si_up, a_si_dn_e, a_si_dn),
     (a_ti_up_e, a_ti_up, a_ti_dn_e, a_ti_dn)],
    [(b_total_up_e, b_total_up, b_total_dn_e, b_total_dn), (b_co_up_e, b_co_up, b_co_dn_e, b_co_dn),
     (b_os_up_e, b_os_up, b_os_dn_e, b_os_dn), (b_si_up_e, b_si_up, b_si_dn_e, b_si_dn),
     (b_ti_up_e, b_ti_up, b_ti_dn_e, b_ti_dn)],
    [(c_total_up_e, c_total_up, c_total_dn_e, c_total_dn), (c_co_up_e, c_co_up, c_co_dn_e, c_co_dn),
     (c_os_up_e, c_os_up, c_os_dn_e, c_os_dn), (c_si_up_e, c_si_up, c_si_dn_e, c_si_dn),
     (c_ti_up_e, c_ti_up, c_ti_dn_e, c_ti_dn)],
]

# layout in figure fractions (from reference pixel positions)
axes_rects = [[0.1175, 0.7169, 0.861, 0.2726],
              [0.1113, 0.3866, 0.869, 0.2745],
              [0.1113, 0.0477, 0.872, 0.2734]]
tag_y = [1 - 10 / 2685, 1 - 890 / 2685, 1 - 1808 / 2685]
title_y = [0.940, 0.923, 0.926]
spin_up_pos = [(-4.90, 6.49), (-4.92, 6.31), (-4.89, 6.80)]
spin_dn_pos = [(-4.94, -5.92), (-4.98, -6.83), (-4.96, -5.55)]
legend_anchor = [(0.814, 0.986), (0.817, 0.983), (0.844, 0.987)]
legend_fs = [32, 32, 30]
legend_hl = [2.6, 2.6, 1.95]
legend_sp = [0.28, 0.28, 0.22]

SERIF_W = 'DejaVu Serif'

fig = plt.figure(figsize=(16, 26.85), dpi=100)

for k in range(3):
    ax = fig.add_axes(axes_rects[k])
    cols = colors_a if k == 0 else colors_bc
    for (ue, ud, de, dd), col, lab in zip(panels[k], cols, labels):
        ax.plot(ue, ud, color=col, lw=2.6, label=lab, solid_joinstyle='round')
        ax.plot(de, dd, color=col, lw=2.6, solid_joinstyle='round')

    ax.set_xlim(-5, 5)
    ax.set_ylim(-8, 8)
    ax.xaxis.set_major_locator(MultipleLocator(1))
    ax.xaxis.set_minor_locator(MultipleLocator(0.5))
    ax.yaxis.set_major_locator(MultipleLocator(2))
    ax.yaxis.set_minor_locator(MultipleLocator(1))
    ax.tick_params(axis='x', which='major', direction='in', length=10, width=2.2,
                   labelsize=24, labelcolor='#555555', pad=14, labelfontfamily=SERIF_W)
    ax.tick_params(axis='x', which='minor', direction='in', length=4, width=2.2)
    ax.tick_params(axis='y', which='major', direction='in', length=16, width=2.2,
                   labelsize=24, labelcolor='#555555', pad=12, labelfontfamily=SERIF_W)
    ax.tick_params(axis='y', which='minor', direction='in', length=7, width=2.2)
    for sp in ax.spines.values():
        sp.set_linewidth(2.6)
        sp.set_color('#222222')

    ax.set_xlabel('Energy', fontsize=36, family=SERIF_W)
    ax.xaxis.set_label_coords(0.5, -0.085)
    ax.set_ylabel('DOS(states/eV)', fontsize=42)
    ax.yaxis.set_label_coords(-0.066, 0.435)

    ax.text(0.495, title_y[k], titles[k], transform=ax.transAxes, ha='center',
            va='baseline', fontsize=44)
    ax.text(spin_up_pos[k][0], spin_up_pos[k][1], 'Spin Up', fontsize=38,
            va='baseline', family=SERIF_W)
    ax.text(spin_dn_pos[k][0], spin_dn_pos[k][1], 'Spin Down', fontsize=38,
            va='baseline', family=SERIF_W)

    leg = ax.legend(loc='upper left', bbox_to_anchor=legend_anchor[k], frameon=False,
                    prop={'family': SERIF_W, 'size': legend_fs[k]},
                    handlelength=legend_hl[k], handletextpad=0.4,
                    labelspacing=legend_sp[k], borderpad=0, borderaxespad=0)
    for h in leg.get_lines():
        h.set_linewidth(4)

    fig.text(8 / 1600, tag_y[k], panel_tags[k], fontsize=52, fontweight='bold',
             ha='left', va='top')

fig.savefig('out.png', dpi=100)
